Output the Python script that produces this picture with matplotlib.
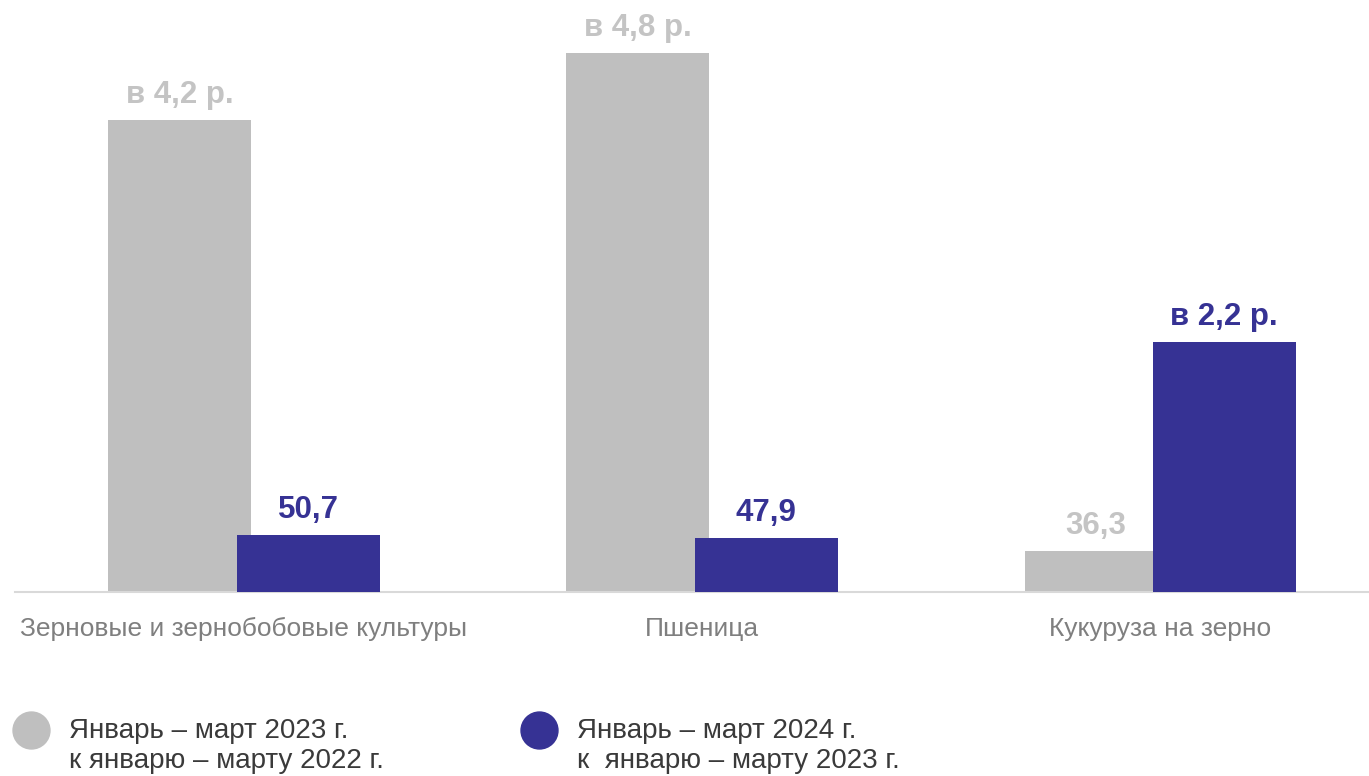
import matplotlib
matplotlib.use("Agg")
import matplotlib.pyplot as plt
from matplotlib.lines import Line2D
from matplotlib.legend_handler import HandlerLine2D
import numpy as np

categories = ["Зерновые и зернобобовые культуры", "Пшеница", "Кукуруза на зерно"]
series_names = ["Январь – март 2023 г.\nк январю – марту 2022 г.",
                "Январь – март 2024 г.\nк  январю – марту 2023 г."]
values_2023 = [420, 480, 36.3]
values_2024 = [50.7, 47.9, 223]
labels_2023 = ["в 4,2 р.", "в 4,8 р.", "36,3"]
labels_2024 = ["50,7", "47,9", "в 2,2 р."]

GRAY = "#BFBFBF"
BLUE = "#363294"
GRAY_TXT = "#C4C4C4"
CAT_TXT = "#7F7F7F"

plt.rcParams['font.family'] = ['Liberation Sans', 'DejaVu Sans']

W, H = 1369, 776
fig = plt.figure(figsize=(W / 100, H / 100), dpi=100)
ax = fig.add_axes([15 / W, (H - 592) / H, 1 - 15 / W, 592 / H])

x = np.arange(len(categories))
width = 0.312
off = 0.14
b1 = ax.bar(x - off, values_2023, width, color=GRAY, zorder=2)
b2 = ax.bar(x + off, values_2024, width, color=BLUE, zorder=3)

for rect, lab in zip(b1, labels_2023):
    ax.annotate(lab, (rect.get_x() + rect.get_width() / 2, rect.get_height()),
                xytext=(0, 25), textcoords="offset pixels", ha="center", va="center",
                fontsize=22.5, fontweight="bold", color=GRAY_TXT)
for rect, lab in zip(b2, labels_2024):
    ax.annotate(lab, (rect.get_x() + rect.get_width() / 2, rect.get_height()),
                xytext=(0, 25), textcoords="offset pixels", ha="center", va="center",
                fontsize=22.5, fontweight="bold", color=BLUE)

ax.set_xlim(-0.5, 2.456)
ax.set_ylim(0, 592 / 1.123)
ax.set_xticks(x)
ax.set_xticklabels(categories, fontsize=19, color=CAT_TXT)
ax.tick_params(axis="x", length=0, pad=18)
ax.set_yticks([])
for s in ["top", "right", "left"]:
    ax.spines[s].set_visible(False)
ax.spines["bottom"].set_color("#D9D9D9")
ax.spines["bottom"].set_linewidth(1.5)


class TopHandler(HandlerLine2D):
    def create_artists(self, legend, orig_handle, xdescent, ydescent,
                       width, height, fontsize, trans):
        arts = super().create_artists(legend, orig_handle, xdescent, ydescent,
                                      width, height, fontsize, trans)
        for a in arts:
            yd = np.asarray(a.get_ydata(), dtype=float)
            a.set_ydata(yd + 0.58 * fontsize)
        return arts


handles = [Line2D([], [], marker="o", linestyle="none", markersize=26.6,
                  markerfacecolor=c, markeredgecolor=c) for c in (GRAY, BLUE)]
leg = fig.legend(handles, series_names, loc="lower left",
                 bbox_to_anchor=(13 / W, 2 / H), ncol=2, frameon=False,
                 prop={'family': ['Liberation Sans', 'DejaVu Sans'], 'size': 20},
                 handletextpad=0.68, columnspacing=4.94, handlelength=1.33,
                 borderpad=0.0, borderaxespad=0.0,
                 handler_map={Line2D: TopHandler()})
for t in leg.get_texts():
    t.set_color("#3A3A3A")
    t.set_linespacing(1.22)

fig.savefig("out.png", dpi=100)
